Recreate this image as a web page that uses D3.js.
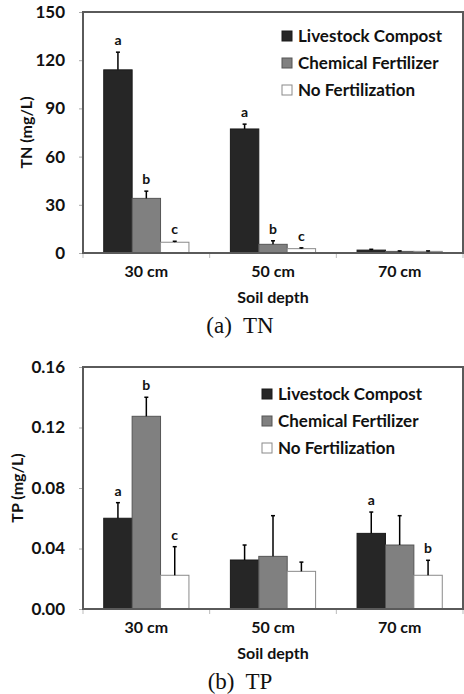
<!DOCTYPE html>
<html>
<head>
<meta charset="utf-8">
<script src="https://cdn.jsdelivr.net/npm/d3@7"></script>
<style>
  body { margin: 0; background: #fff; }
  svg { display: block; }
</style>
</head>
<body>
<div id="chart"></div>
<script>
// soil depths and treatments
const depths = ['30 cm', '50 cm', '70 cm'];
const treatments = ['Livestock Compost', 'Chemical Fertilizer', 'No Fertilization'];

// TN (mg/L), rows = treatment, cols = depth
const tnMean = [[114, 77.2, 1.8], [34, 5.4, 1.0], [6.7, 2.7, 1.0]];
const tnErr = [[11, 3, 0.5], [4.5, 2.2, 0.3], [0.6, 0.5, 0.3]];
const tnLetters = [['a', 'a', ''], ['b', 'b', ''], ['c', 'c', '']];
const tnTicks = [0, 30, 60, 90, 120, 150];

// TP (mg/L)
const tpMean = [[0.060, 0.0324, 0.050], [0.1274, 0.0348, 0.0423], [0.0223, 0.0249, 0.0223]];
const tpErr = [[0.0103, 0.0099, 0.0141], [0.0126, 0.0269, 0.0194], [0.0189, 0.0061, 0.0099]];
const tpLetters = [['a', '', 'a'], ['b', '', ''], ['c', '', 'b']];
const tpTicks = [0, 0.04, 0.08, 0.12, 0.16];

const fills = ['#262626', '#808080', '#ffffff'];
const strokes = ['#1a1a1a', '#555', '#8a8a8a'];
const sans = 'Lato, "Open Sans", sans-serif';

const W = 464, H = 694;
const svg = d3.select('#chart').append('svg').attr('width', W).attr('height', H)
  .style('font-family', sans);

const panels = [
  {mean: tnMean, err: tnErr, letters: tnLetters, ticks: tnTicks, fmt: d3.format('d'),
   top: 12, bottom: 253, ylab: 'TN (mg/L)', ylabX: 26, caption: '(a)  TN',
   legend: {x: 282, y: 36}},
  {mean: tpMean, err: tpErr, letters: tpLetters, ticks: tpTicks, fmt: d3.format('.2f'),
   top: 367, bottom: 609, ylab: 'TP (mg/L)', ylabX: 17, caption: '(b)  TP',
   legend: {x: 262, y: 394}}
];

const left = 83, right = 463;

panels.forEach(p => {
  const g = svg.append('g');
  const y = d3.scaleLinear().domain([0, d3.max(p.ticks)]).range([p.bottom, p.top]);
  const x0 = d3.scaleBand().domain(depths).range([left, right]);
  const x1 = d3.scaleBand().domain(treatments)
    .range([0, x0.bandwidth()]).paddingOuter(0.73).paddingInner(0);

  // y ticks
  const ya = g.append('g').attr('transform', `translate(${left},0)`)
    .call(d3.axisLeft(y).tickValues(p.ticks).tickFormat(p.fmt).tickSize(4).tickPadding(14));
  ya.select('.domain').remove();
  ya.selectAll('line').attr('stroke', '#aaa');
  ya.selectAll('text').attr('font-size', 17).attr('font-weight', 700).attr('fill', '#111')
    .attr('font-family', sans);

  // x ticks
  const xa = g.append('g').attr('transform', `translate(0,${p.bottom})`)
    .call(d3.axisBottom(x0).tickSize(0).tickPadding(13));
  xa.select('.domain').remove();
  xa.selectAll('text').attr('font-size', 16).attr('font-weight', 700).attr('fill', '#111')
    .attr('font-family', sans);
  [left, ...depths.map(d => x0(d) + x0.bandwidth())].forEach(v => {
    g.append('line').attr('x1', v).attr('x2', v).attr('y1', p.bottom).attr('y2', p.bottom + 5)
      .attr('stroke', '#bbb');
  });

  // bars
  treatments.forEach((t, ti) => {
    depths.forEach((d, di) => {
      const v = p.mean[ti][di], e = p.err[ti][di];
      const bx = x0(d) + x1(t), bw = x1.bandwidth();
      g.append('rect')
        .attr('x', bx).attr('y', y(v)).attr('width', bw).attr('height', p.bottom - y(v))
        .attr('fill', fills[ti]).attr('stroke', strokes[ti]).attr('stroke-width', 1);
      const cx = bx + bw / 2;
      g.append('line').attr('x1', cx).attr('x2', cx).attr('y1', y(v)).attr('y2', y(v + e))
        .attr('stroke', '#000').attr('stroke-width', 1.5);
      g.append('line').attr('x1', cx - 2).attr('x2', cx + 2).attr('y1', y(v + e)).attr('y2', y(v + e))
        .attr('stroke', '#000').attr('stroke-width', 1.5);
      if (p.letters[ti][di]) {
        g.append('text').attr('x', cx).attr('y', y(v + e) - 7)
          .attr('text-anchor', 'middle').attr('font-size', 14).attr('font-weight', 700)
          .attr('fill', '#111').text(p.letters[ti][di]);
      }
    });
  });

  // frame
  g.append('rect').attr('x', left).attr('y', p.top).attr('width', right - left)
    .attr('height', p.bottom - p.top).attr('fill', 'none')
    .attr('stroke', '#5a5a5a').attr('stroke-width', 2);

  // legend
  treatments.forEach((t, ti) => {
    const ly = p.legend.y + ti * 27;
    g.append('rect').attr('x', p.legend.x).attr('y', ly - 5).attr('width', 10).attr('height', 10)
      .attr('fill', fills[ti]).attr('stroke', strokes[ti]);
    g.append('text').attr('x', p.legend.x + 16).attr('y', ly).attr('dy', '0.35em')
      .attr('font-size', 17).attr('font-weight', 700).attr('fill', '#111').text(t);
  });

  // axis titles
  g.append('text')
    .attr('transform', `translate(${p.ylabX},${(p.top + p.bottom) / 2}) rotate(-90)`)
    .attr('text-anchor', 'middle').attr('dy', '0.35em')
    .attr('font-size', 16).attr('font-weight', 700).attr('fill', '#111').text(p.ylab);
  g.append('text').attr('x', (left + right) / 2).attr('y', p.bottom + 44)
    .attr('text-anchor', 'middle').attr('dy', '0.35em')
    .attr('font-size', 16).attr('font-weight', 700).attr('fill', '#111').text('Soil depth');
  g.append('text').attr('x', 240).attr('y', p.bottom + 72)
    .attr('text-anchor', 'middle').attr('dy', '0.35em')
    .style('white-space', 'pre')
    .style('font-family', '"Liberation Serif", "DejaVu Serif", serif')
    .attr('font-size', 23).attr('fill', '#111').text(p.caption);
});
</script>
</body>
</html>
